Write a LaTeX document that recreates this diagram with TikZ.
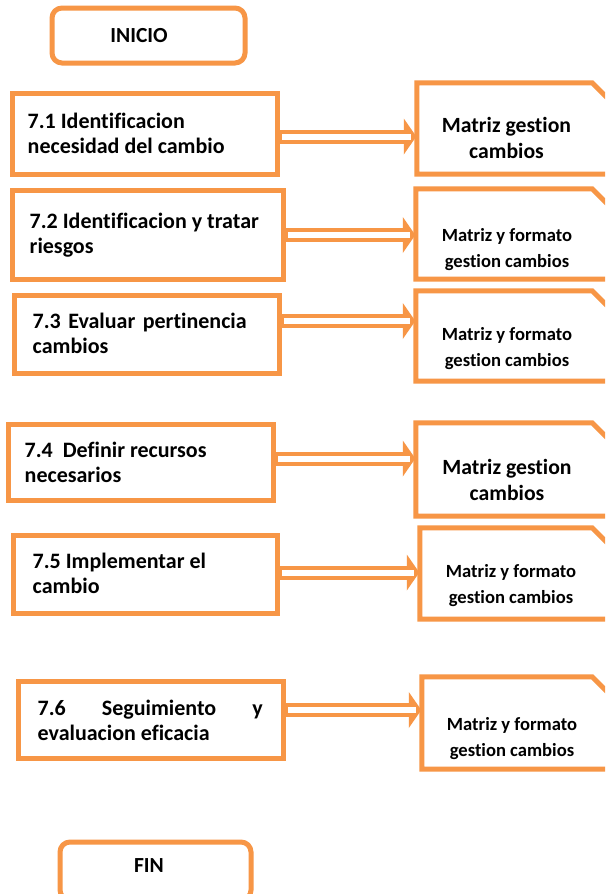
\documentclass[tikz,border=0pt]{standalone}
\usepackage{fontspec}
\setmainfont{Carlito}[Ligatures=NoCommon]
\definecolor{orf}{HTML}{F79646}
\newcommand\dblarr[2]{%
  \draw[orf, line width=14pt] (#1) -- ([xshift=-10pt]#2);
  \fill[orf] ([xshift=-13pt,yshift=18pt]#2) -- ([xshift=-0.5pt]#2) -- ([xshift=-13pt,yshift=-18pt]#2) -- cycle;
  \draw[white, line width=6pt] ([xshift=2.5pt]#1) -- ([xshift=-5.5pt]#2);
}
\begin{document}
\begin{tikzpicture}[x=1pt,y=-1pt,
  lbox/.style={draw=orf, line width=5pt, inner sep=0pt, fill=white},
  rshape/.style={inner sep=0pt},
  rline/.style={draw=orf, line width=5pt, line join=miter},
  endbox/.style={draw=orf, line width=5pt, inner sep=0pt, rounded corners=10pt},
  ltext/.style={align=left, inner sep=0pt, font=\bfseries\fontsize{22}{25}\selectfont},
  rtextA/.style={align=center, inner sep=0pt, font=\bfseries\fontsize{21.7}{26}\selectfont},
  rtextB/.style={align=center, inner sep=0pt, font=\bfseries\fontsize{18.6}{26}\selectfont},
  etext/.style={inner sep=0pt, font=\bfseries\fontsize{21.5}{25}\selectfont}
]
\clip (0,0) rectangle (605,894);
\fill[white] (0,0) rectangle (605,894);

% start / end
\node[endbox, minimum width=193pt, minimum height=55pt] (ini) at (148.5,35.5) {};
\node[etext, anchor=base] (initxt) at (139,42) {INICIO};
\node[endbox, minimum width=191pt, minimum height=58pt] (fin) at (155.5,871) {};
\node[etext, anchor=base] (fintxt) at (149,872) {FIN};

% left boxes
\node[lbox, minimum width=265pt, minimum height=81pt] (b1) at (144.5,133.5) {};
\node[lbox, minimum width=271pt, minimum height=89pt] (b2) at (147.5,234.5) {};
\node[lbox, minimum width=265pt, minimum height=78pt] (b3) at (146.5,334) {};
\node[lbox, minimum width=265pt, minimum height=76pt] (b4) at (140.5,462) {};
\node[lbox, minimum width=264pt, minimum height=78pt] (b5) at (145,574) {};
\node[lbox, minimum width=265pt, minimum height=77pt] (b6) at (150.5,719.5) {};

\node[ltext, anchor=west] (t1) at ([xshift=18pt,yshift=-2pt]b1.west) {\strut 7.1 Identificacion\\\strut necesidad del cambio};
\node[ltext, anchor=west] (t2) at ([xshift=20pt,yshift=-1pt]b2.west) {\strut 7.2 Identificacion y tratar\\\strut riesgos};
\node[ltext, anchor=west] (t3) at ([xshift=21pt,yshift=-1.5pt]b3.west) {\makebox[214pt][s]{\strut 7.3 Evaluar pertinencia}\\\strut cambios};
\node[ltext, anchor=west] (t4) at ([xshift=19pt,yshift=-2.5pt]b4.west) {\strut 7.4\hspace{10pt}Definir recursos\\\strut necesarios};
\node[ltext, anchor=west] (t5) at ([xshift=22pt,yshift=-1.5pt]b5.west) {\strut 7.5 Implementar el\\\strut cambio};
\node[ltext, anchor=west] (t6) at ([xshift=22pt,yshift=-3pt]b6.west) {\makebox[225pt][s]{\strut 7.6 Seguimiento y}\\\strut evaluacion eficacia};

% right boxes
\node[rshape, minimum width=195pt, minimum height=91pt] (r1) at (514.5,128.5) {};
\node[rshape, minimum width=196pt, minimum height=90pt] (r2) at (514,234) {};
\node[rshape, minimum width=196pt, minimum height=90pt] (r3) at (514,336) {};
\node[rshape, minimum width=196pt, minimum height=93pt] (r4) at (514,469.5) {};
\node[rshape, minimum width=192pt, minimum height=91pt] (r5) at (516,573.5) {};
\node[rshape, minimum width=190pt, minimum height=92pt] (r6) at (517,723) {};
\foreach \r in {r1,r2,r3,r4,r5,r6}{
  \draw[rline] (\r.north west) -- (\r.south west) -- (\r.south east)
    -- ([yshift=-20pt]\r.north east) -- ([xshift=-20pt]\r.north east) -- cycle;
}

\node[rtextA] (m1) at (506.5,140.3) {\strut Matriz gestion\\\strut cambios};
\node[rtextB] (m2) at (507,248.8) {\strut Matriz y formato\\\strut gestion cambios};
\node[rtextB] (m3) at (507,348.5) {\strut Matriz y formato\\\strut gestion cambios};
\node[rtextA] (m4) at (507,481.8) {\strut Matriz gestion\\\strut cambios};
\node[rtextB] (m5) at (511,585.3) {\strut Matriz y formato\\\strut gestion cambios};
\node[rtextB] (m6) at (512,737.8) {\strut Matriz y formato\\\strut gestion cambios};

% arrows
\coordinate (a1) at ([yshift=-3pt]b1.east);
\coordinate (a2) at ([yshift=-0.5pt]b2.east);
\coordinate (a3) at ([yshift=13pt]b3.east);
\coordinate (a4) at ([yshift=3.5pt]b4.east);
\coordinate (a5) at ([yshift=1.5pt]b5.east);
\coordinate (a6) at ([yshift=9.5pt]b6.east);
\coordinate (e1) at (a1 -| r1.west);
\coordinate (e2) at (a2 -| r2.west);
\coordinate (e3) at (a3 -| r3.west);
\coordinate (e4) at (a4 -| r4.west);
\coordinate (e5) at (a5 -| r5.west);
\coordinate (e6) at (a6 -| r6.west);
\dblarr{a1}{e1}
\dblarr{a2}{e2}
\dblarr{a3}{e3}
\dblarr{a4}{e4}
\dblarr{a5}{e5}
\dblarr{a6}{e6}
\end{tikzpicture}
\end{document}
